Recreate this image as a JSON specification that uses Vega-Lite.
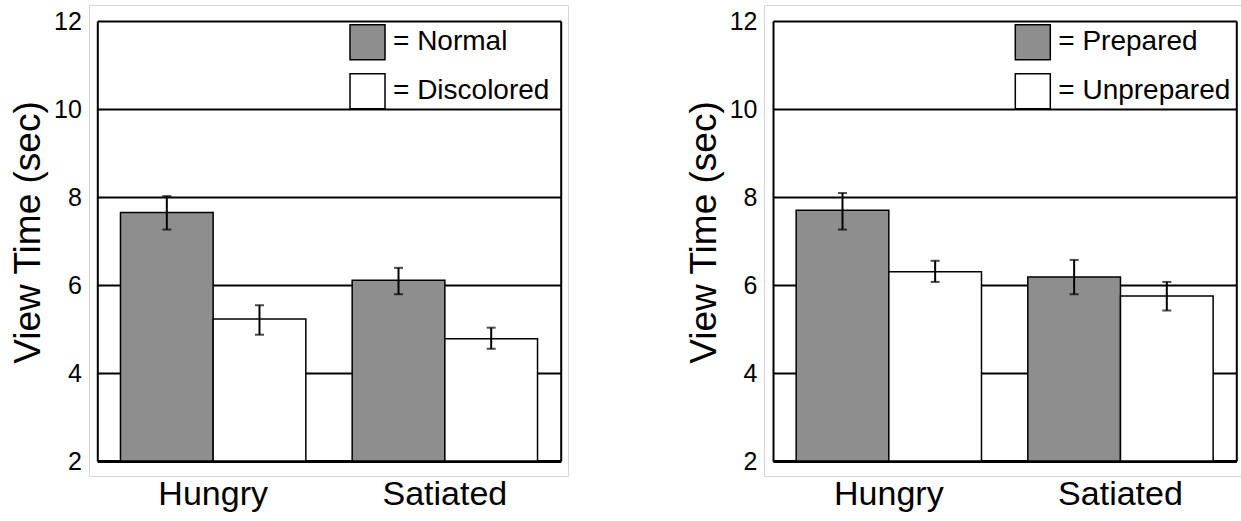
{
  "$schema": "https://vega.github.io/schema/vega-lite/v6.json",
  "padding": {"left": 8, "top": 4, "right": 0, "bottom": 0},
  "spacing": 115,
  "resolve": {"scale": {"color": "independent", "xOffset": "independent"}, "legend": {"color": "independent"}},
  "config": {
    "font": "Liberation Sans",
    "view": {"stroke": "#d6d6d6", "strokeWidth": 1},
    "scale": {"offsetBandPaddingInner": 0, "offsetBandPaddingOuter": 0},
    "legend": {
      "orient": "none",
      "padding": 0,
      "symbolType": "square",
      "symbolSize": 1225,
      "symbolStrokeColor": "black",
      "symbolStrokeWidth": 1.5,
      "labelFontSize": 28,
      "labelColor": "black",
      "labelLimit": 0,
      "labelOffset": 7,
      "rowPadding": 8
    }
  },
  "datasets": {
    "left": [
      {"state": "Hungry", "cond": "Normal", "time": 7.65, "lo": 7.26, "hi": 8.02},
      {"state": "Hungry", "cond": "Discolored", "time": 5.23, "lo": 4.87, "hi": 5.54},
      {"state": "Satiated", "cond": "Normal", "time": 6.11, "lo": 5.79, "hi": 6.39},
      {"state": "Satiated", "cond": "Discolored", "time": 4.78, "lo": 4.55, "hi": 5.03}
    ],
    "right": [
      {"state": "Hungry", "cond": "Prepared", "time": 7.70, "lo": 7.26, "hi": 8.09},
      {"state": "Hungry", "cond": "Unprepared", "time": 6.30, "lo": 6.07, "hi": 6.55},
      {"state": "Satiated", "cond": "Prepared", "time": 6.18, "lo": 5.79, "hi": 6.57},
      {"state": "Satiated", "cond": "Unprepared", "time": 5.75, "lo": 5.42, "hi": 6.07}
    ]
  },
  "hconcat": [
    {
      "width": 479,
      "height": 471,
      "data": {"name": "left"},
      "resolve": {"axis": {"y": "independent"}},
      "layer": [
        {
          "mark": {"type": "bar", "stroke": "black", "strokeWidth": 1.5},
          "encoding": {
            "x": {"field": "state", "type": "nominal", "sort": ["Hungry", "Satiated"],
              "scale": {"range": [8.3, 471.7], "paddingInner": 0.2, "paddingOuter": 0.1},
              "axis": {"title": null, "labelAngle": 0, "labelFontSize": 34, "labelColor": "black", "labelPadding": 16, "ticks": false, "domainColor": "black", "domainWidth": 3, "offset": -15, "grid": false}},
            "xOffset": {"field": "cond", "type": "nominal", "sort": ["Normal", "Discolored"], "scale": {"paddingInner": 0, "paddingOuter": 0}},
            "y": {"field": "time", "type": "quantitative",
              "scale": {"domain": [2, 12], "range": [456, 16], "nice": false, "zero": false},
              "axis": {"title": "View Time (sec)", "titleFontSize": 37, "titleFontWeight": "normal", "titleColor": "black", "titlePadding": 6, "titleY": 227, "values": [2, 4, 6, 8, 10, 12], "labelFontSize": 25, "labelColor": "black", "labelPadding": 16, "ticks": false, "grid": true, "gridColor": "black", "gridWidth": 2, "gridOpacity": 1, "domainColor": "black", "domainWidth": 2, "offset": -8.3}},
            "y2": {"datum": 2},
            "color": {"field": "cond", "type": "nominal",
              "scale": {"domain": ["Normal", "Discolored"], "range": ["#8e8e8e", "#ffffff"]},
              "legend": {"title": null, "legendX": 260, "legendY": 18.7, "labelExpr": "'= ' + datum.label"}}
          }
        },
        {
          "mark": {"type": "rule", "color": "black", "strokeWidth": 2},
          "encoding": {
            "x": {"field": "state", "type": "nominal", "sort": ["Hungry", "Satiated"]},
            "xOffset": {"field": "cond", "type": "nominal", "sort": ["Normal", "Discolored"], "scale": {"paddingInner": 0, "paddingOuter": 0}},
            "y": {"field": "lo", "type": "quantitative", "scale": {"domain": [2, 12], "range": [456, 16], "nice": false, "zero": false}, "axis": null},
            "y2": {"field": "hi"}
          }
        },
        {
          "mark": {"type": "tick", "color": "black", "size": 9, "thickness": 2},
          "encoding": {
            "x": {"field": "state", "type": "nominal", "sort": ["Hungry", "Satiated"]},
            "xOffset": {"field": "cond", "type": "nominal", "sort": ["Normal", "Discolored"], "scale": {"paddingInner": 0, "paddingOuter": 0}},
            "y": {"field": "lo", "type": "quantitative", "scale": {"domain": [2, 12], "range": [456, 16], "nice": false, "zero": false}, "axis": null}
          }
        },
        {
          "mark": {"type": "tick", "color": "black", "size": 9, "thickness": 2},
          "encoding": {
            "x": {"field": "state", "type": "nominal", "sort": ["Hungry", "Satiated"]},
            "xOffset": {"field": "cond", "type": "nominal", "sort": ["Normal", "Discolored"], "scale": {"paddingInner": 0, "paddingOuter": 0}},
            "y": {"field": "hi", "type": "quantitative", "scale": {"domain": [2, 12], "range": [456, 16], "nice": false, "zero": false},
              "axis": {"orient": "right", "title": null, "labels": false, "ticks": false, "grid": false, "domainColor": "black", "domainWidth": 2, "offset": -7.3}}
          }
        }
      ]
    },
    {
      "width": 478,
      "height": 471,
      "data": {"name": "right"},
      "resolve": {"axis": {"y": "independent"}},
      "layer": [
        {
          "mark": {"type": "bar", "stroke": "black", "strokeWidth": 1.5},
          "encoding": {
            "x": {"field": "state", "type": "nominal", "sort": ["Hungry", "Satiated"],
              "scale": {"range": [9, 472.3], "paddingInner": 0.2, "paddingOuter": 0.1},
              "axis": {"title": null, "labelAngle": 0, "labelFontSize": 34, "labelColor": "black", "labelPadding": 16, "ticks": false, "domainColor": "black", "domainWidth": 3, "offset": -15, "grid": false}},
            "xOffset": {"field": "cond", "type": "nominal", "sort": ["Prepared", "Unprepared"], "scale": {"paddingInner": 0, "paddingOuter": 0}},
            "y": {"field": "time", "type": "quantitative",
              "scale": {"domain": [2, 12], "range": [456, 16], "nice": false, "zero": false},
              "axis": {"title": "View Time (sec)", "titleFontSize": 37, "titleFontWeight": "normal", "titleColor": "black", "titlePadding": 6, "titleY": 227, "values": [2, 4, 6, 8, 10, 12], "labelFontSize": 25, "labelColor": "black", "labelPadding": 16, "ticks": false, "grid": true, "gridColor": "black", "gridWidth": 2, "gridOpacity": 1, "domainColor": "black", "domainWidth": 2, "offset": -9}},
            "y2": {"datum": 2},
            "color": {"field": "cond", "type": "nominal",
              "scale": {"domain": ["Prepared", "Unprepared"], "range": ["#8e8e8e", "#ffffff"]},
              "legend": {"title": null, "legendX": 250.3, "legendY": 18.7, "labelExpr": "'= ' + datum.label"}}
          }
        },
        {
          "mark": {"type": "rule", "color": "black", "strokeWidth": 2},
          "encoding": {
            "x": {"field": "state", "type": "nominal", "sort": ["Hungry", "Satiated"]},
            "xOffset": {"field": "cond", "type": "nominal", "sort": ["Prepared", "Unprepared"], "scale": {"paddingInner": 0, "paddingOuter": 0}},
            "y": {"field": "lo", "type": "quantitative", "scale": {"domain": [2, 12], "range": [456, 16], "nice": false, "zero": false}, "axis": null},
            "y2": {"field": "hi"}
          }
        },
        {
          "mark": {"type": "tick", "color": "black", "size": 9, "thickness": 2},
          "encoding": {
            "x": {"field": "state", "type": "nominal", "sort": ["Hungry", "Satiated"]},
            "xOffset": {"field": "cond", "type": "nominal", "sort": ["Prepared", "Unprepared"], "scale": {"paddingInner": 0, "paddingOuter": 0}},
            "y": {"field": "lo", "type": "quantitative", "scale": {"domain": [2, 12], "range": [456, 16], "nice": false, "zero": false}, "axis": null}
          }
        },
        {
          "mark": {"type": "tick", "color": "black", "size": 9, "thickness": 2},
          "encoding": {
            "x": {"field": "state", "type": "nominal", "sort": ["Hungry", "Satiated"]},
            "xOffset": {"field": "cond", "type": "nominal", "sort": ["Prepared", "Unprepared"], "scale": {"paddingInner": 0, "paddingOuter": 0}},
            "y": {"field": "hi", "type": "quantitative", "scale": {"domain": [2, 12], "range": [456, 16], "nice": false, "zero": false},
              "axis": {"orient": "right", "title": null, "labels": false, "ticks": false, "grid": false, "domainColor": "black", "domainWidth": 2, "offset": -5.7}}
          }
        }
      ]
    }
  ]
}
